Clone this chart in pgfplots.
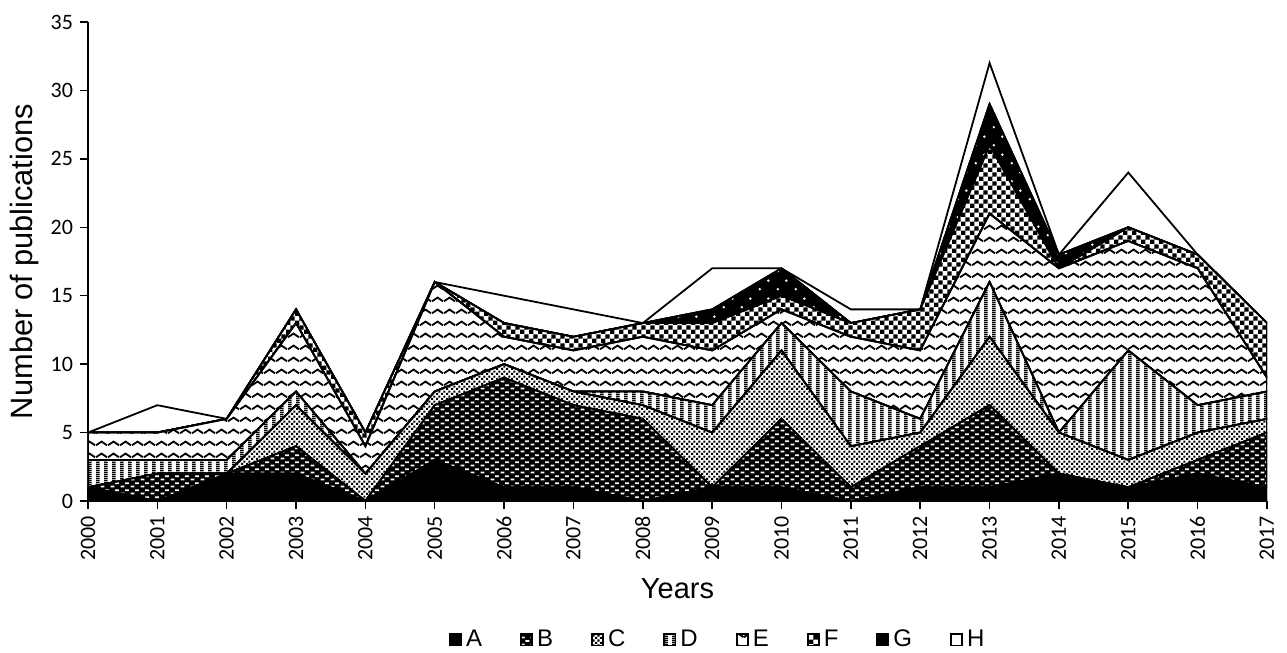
\documentclass[border=0pt]{standalone}
\usepackage{pgfplots}
\pgfplotsset{compat=1.18}
\usepackage{pgfplotstable}
\usepackage{fontspec}
\setmainfont{Liberation Sans}
\newfontfamily\carlito{Carlito}
\usetikzlibrary{patterns}

\pgfdeclarepatternformonly{bdash}{\pgfqpoint{0pt}{0pt}}{\pgfqpoint{5pt}{3.6pt}}{\pgfqpoint{5pt}{3.6pt}}{%
 \pgfpathrectangle{\pgfqpoint{0.3pt}{0.4pt}}{\pgfqpoint{2.1pt}{0.9pt}}%
 \pgfpathrectangle{\pgfqpoint{2.8pt}{2.2pt}}{\pgfqpoint{2.1pt}{0.9pt}}%
 \pgfusepath{fill}}
\pgfdeclarepatternformonly{cgrid}{\pgfqpoint{0pt}{0pt}}{\pgfqpoint{2.4pt}{2.4pt}}{\pgfqpoint{2.4pt}{2.4pt}}{%
 \pgfpathrectangle{\pgfqpoint{0pt}{0pt}}{\pgfqpoint{1.05pt}{1.05pt}}%
 \pgfpathrectangle{\pgfqpoint{1.2pt}{1.2pt}}{\pgfqpoint{1.05pt}{1.05pt}}%
 \pgfusepath{fill}}
\pgfdeclarepatternformonly{vstripe}{\pgfqpoint{0pt}{0pt}}{\pgfqpoint{4pt}{1pt}}{\pgfqpoint{4pt}{1pt}}{%
 \pgfpathrectangle{\pgfqpoint{0pt}{0pt}}{\pgfqpoint{2pt}{1pt}}\pgfusepath{fill}}
\pgfdeclarepatternformonly{zigzag}{\pgfqpoint{0pt}{0pt}}{\pgfqpoint{6pt}{6pt}}{\pgfqpoint{6pt}{6pt}}{%
 \pgfsetlinewidth{1pt}%
 \pgfpathmoveto{\pgfqpoint{0pt}{2pt}}\pgfpathlineto{\pgfqpoint{3pt}{4pt}}\pgfpathlineto{\pgfqpoint{6pt}{2pt}}\pgfusepath{stroke}}
\pgfdeclarepatternformonly{checker}{\pgfqpoint{0pt}{0pt}}{\pgfqpoint{4.4pt}{4.4pt}}{\pgfqpoint{4.4pt}{4.4pt}}{%
 \pgfpathrectangle{\pgfqpoint{0pt}{0pt}}{\pgfqpoint{2.2pt}{2.2pt}}%
 \pgfpathrectangle{\pgfqpoint{2.2pt}{2.2pt}}{\pgfqpoint{2.2pt}{2.2pt}}\pgfusepath{fill}}
\pgfdeclarepatternformonly{gdots}{\pgfqpoint{0pt}{0pt}}{\pgfqpoint{9pt}{9pt}}{\pgfqpoint{9pt}{9pt}}{%
 \pgfpathcircle{\pgfqpoint{2pt}{2pt}}{0.7pt}%
 \pgfpathcircle{\pgfqpoint{6.5pt}{6.5pt}}{0.7pt}\pgfusepath{fill}}

\pgfplotstableread{
year A B C D E F G H
2000 1 0 0 2 2 0 0 0
2001 0 2 0 1 2 0 0 2
2002 2 0 0 1 3 0 0 0
2003 2 2 3 1 5 1 0 0
2004 0 0 2 0 2 1 0 0
2005 3 4 1 0 8 0 0 0
2006 1 8 1 0 2 1 0 2
2007 1 6 1 0 3 1 0 2
2008 0 6 1 1 4 1 0 0
2009 1 0 4 2 4 2 1 3
2010 1 5 5 2 1 1 2 0
2011 0 1 3 4 4 1 0 1
2012 1 3 1 1 5 3 0 0
2013 1 6 5 4 5 5 3 3
2014 2 0 3 0 12 0 1 0
2015 1 0 2 8 8 1 0 4
2016 2 1 2 2 10 1 0 0
2017 1 4 1 2 1 4 0 0
}\datatable

\begin{document}
\begin{tikzpicture}
\begin{axis}[
  at={(0pt,0pt)}, anchor=south west,
  width=589.5pt, height=239.5pt, scale only axis,
  xmin=2000, xmax=2017, ymin=0, ymax=35,
  axis lines*=left,
  axis line style={line width=0.75pt},
  xtick={2000,...,2017},
  ytick={0,5,...,35},
  tick align=outside,
  major tick length=4pt,
  tick style={black, line width=0.75pt},
  /pgf/number format/1000 sep={},
  /pgf/number format/assume math mode=true,
  xticklabel style={rotate=90, anchor=east, font=\carlito\fontsize{11}{13}\selectfont},
  yticklabel style={font=\carlito\fontsize{11}{13}\selectfont},
  xlabel={Years},
  ylabel={Number of publications},
  xlabel style={at={(axis description cs:0.5,-0.182)}, anchor=center, font=\fontsize{14.5}{17}\selectfont},
  ylabel style={at={(axis description cs:-0.0535,0.5)}, anchor=center, font=\fontsize{15.4}{18}\selectfont},
  stack plots=y,
  legend style={draw=none, at={(0.535,-0.29)}, anchor=center, legend columns=8,
    font=\fontsize{12}{14}\selectfont,
    /tikz/every even column/.append style={column sep=17pt}},
  legend image code/.code={\draw[#1] (0pt,-2.8pt) rectangle (5.6pt,2.8pt);},
  every axis plot/.append style={line width=0.9pt, mark=none, sharp plot},
]
\addplot[draw=black, fill=black] table[x=year,y=A]{\datatable} \closedcycle;
\addplot[draw=black, fill=black, postaction={pattern=bdash, pattern color=white}] table[x=year,y=B]{\datatable} \closedcycle;
\addplot[draw=black, fill=white, postaction={pattern=cgrid, pattern color=black}] table[x=year,y=C]{\datatable} \closedcycle;
\addplot[draw=black, fill=white, postaction={pattern=vstripe, pattern color=black}] table[x=year,y=D]{\datatable} \closedcycle;
\addplot[draw=black, fill=white, postaction={pattern=zigzag, pattern color=black}] table[x=year,y=E]{\datatable} \closedcycle;
\addplot[draw=black, fill=white, postaction={pattern=checker, pattern color=black}] table[x=year,y=F]{\datatable} \closedcycle;
\addplot[draw=black, fill=black, postaction={pattern=gdots, pattern color=white}] table[x=year,y=G]{\datatable} \closedcycle;
\addplot[draw=black, fill=white] table[x=year,y=H]{\datatable} \closedcycle;
\legend{A,B,C,D,E,F,G,H}
\end{axis}
\pgfresetboundingbox
\path (-44pt,-76pt) rectangle (599.5pt,250.5pt);
\end{tikzpicture}
\end{document}
